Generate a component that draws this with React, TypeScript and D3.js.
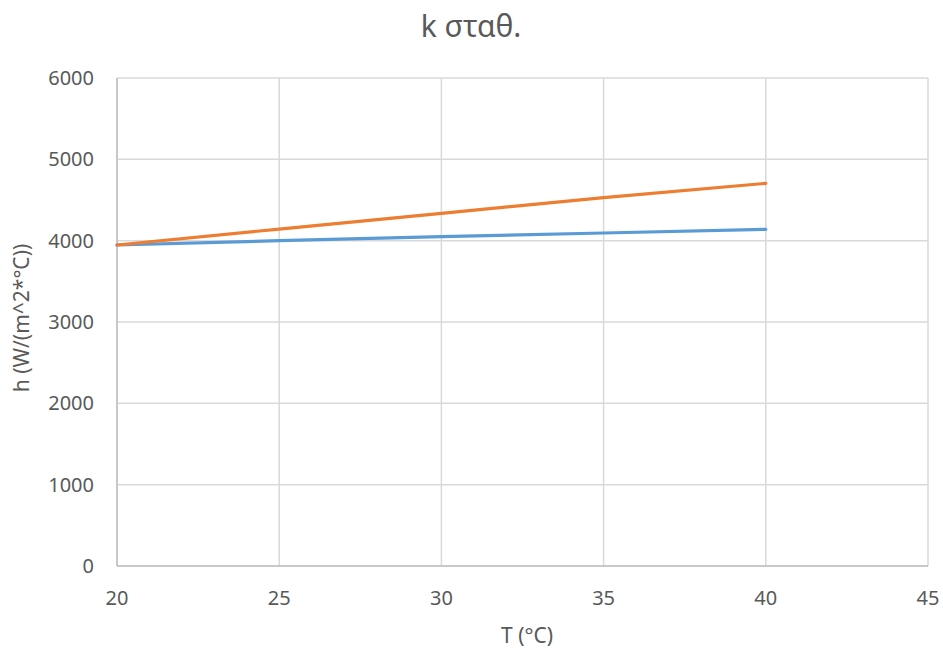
import * as d3 from "d3";

const temps = [20, 25, 30, 35, 40];
const seriesBlue = [3947, 4000, 4049, 4094, 4140];
const seriesOrange = [3947, 4143, 4336, 4529, 4705];
const xTicks = [20, 25, 30, 35, 40, 45];
const yTicks = [0, 1000, 2000, 3000, 4000, 5000, 6000];

const W = 943;
const H = 655;
const m = { left: 117, right: 15, top: 78, bottom: 89 };
const font = "'Noto Sans', sans-serif";
const textColor = "#595959";

export default function App() {
  const x = d3.scaleLinear().domain([20, 45]).range([m.left, W - m.right]);
  const y = d3.scaleLinear().domain([0, 6000]).range([H - m.bottom, m.top]);
  const line = d3
    .line<number>()
    .x((_, i) => x(temps[i]))
    .y((d) => y(d));

  return (
    <svg
      width={W}
      height={H}
      style={{ position: "absolute", left: 0, top: 0, background: "#fff" }}
      fontFamily={font}
    >
      <rect width={W} height={H} fill="#fff" />
      {xTicks.map((t) => (
        <line key={"gx" + t} x1={x(t)} x2={x(t)} y1={y(0)} y2={y(6000)} stroke="#d9d9d9" strokeWidth={1.5} />
      ))}
      {yTicks.map((t) => (
        <line key={"gy" + t} x1={x(20)} x2={x(45)} y1={y(t)} y2={y(t)} stroke="#d9d9d9" strokeWidth={1.5} />
      ))}
      <line x1={x(20)} x2={x(20)} y1={y(0)} y2={y(6000)} stroke="#bfbfbf" strokeWidth={1.5} />
      <line x1={x(20)} x2={x(45)} y1={y(0)} y2={y(0)} stroke="#bfbfbf" strokeWidth={1.5} />
      <path d={line(seriesBlue) || ""} fill="none" stroke="#5b9bd5" strokeWidth={3.2} strokeLinecap="round" strokeLinejoin="round" />
      <path d={line(seriesOrange) || ""} fill="none" stroke="#ed7d31" strokeWidth={3.2} strokeLinecap="round" strokeLinejoin="round" />
      {yTicks.map((t) => (
        <text key={"ly" + t} x={94} y={y(t)} dy="0.35em" textAnchor="end" fontSize={20} fill={textColor}>
          {t}
        </text>
      ))}
      {xTicks.map((t) => (
        <text key={"lx" + t} x={x(t)} y={598} dy="0.35em" textAnchor="middle" fontSize={20} fill={textColor}>
          {t}
        </text>
      ))}
      <text x={527} y={636} dy="0.35em" textAnchor="middle" fontSize={21} fill={textColor}>
        T (°C)
      </text>
      <text
        transform={`translate(22,318) rotate(-90)`}
        dy="0.35em"
        textAnchor="middle"
        fontSize={21}
        fill={textColor}
      >
        h (W/(m^2*°C))
      </text>
      <text x={471} y={26} dy="0.35em" textAnchor="middle" fontSize={30} fill={textColor}>
        k σταθ.
      </text>
    </svg>
  );
}
